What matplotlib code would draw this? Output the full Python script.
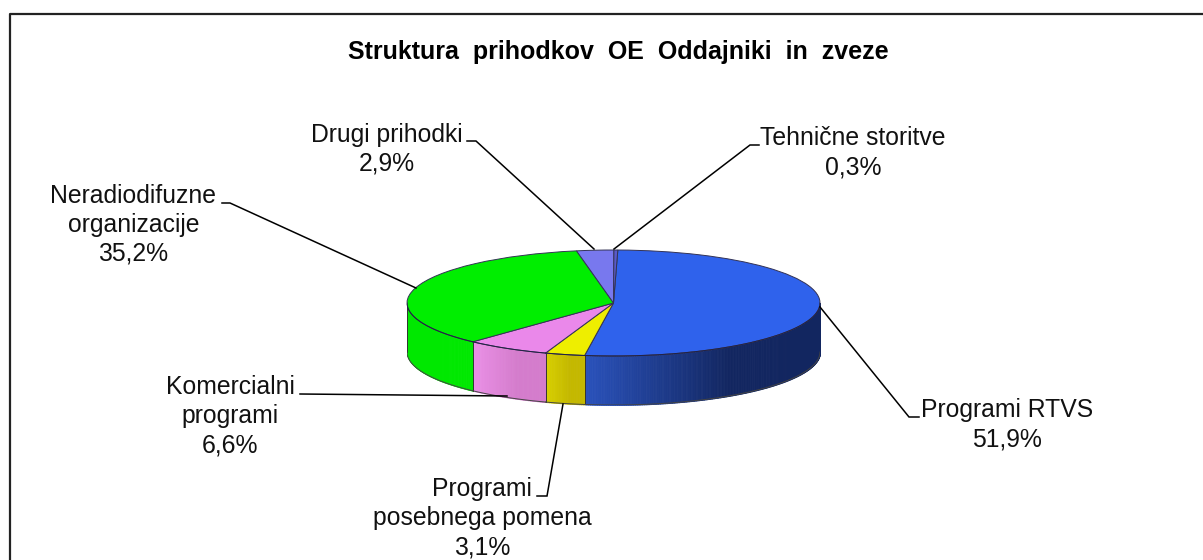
import numpy as np
import matplotlib
matplotlib.use('Agg')
import matplotlib.pyplot as plt

plt.rcParams['font.family'] = ['Liberation Sans', 'DejaVu Sans']

W, H = 1203, 560

# data, clockwise from the top
names = ['Programi RTVS', 'Programi\nposebnega pomena', 'Komercialni\nprogrami',
         'Neradiodifuzne\norganizacije', 'Drugi prihodki', 'Tehnične storitve']
values = [51.9, 3.1, 6.6, 35.2, 2.9, 0.3]
pct_labels = ['51,9%', '3,1%', '6,6%', '35,2%', '2,9%', '0,3%']
top_colors = ['#2f62ec', '#eeee00', '#ea88ea', '#00ee00', '#7878ee', '#5a5ac8']
side_left = ['#2a52bc', '#d8d000', '#ea90e6', '#00e800', '#7878ee', '#5a5ac8']
side_right = ['#122660', '#c4b800', '#d47ccc', '#00e800', '#7878ee', '#5a5ac8']

title = 'Struktura  prihodkov  OE  Oddajniki  in  zveze'

# pie geometry in pixels
cx, cy, rx, ry = 613.5, 303, 206.5, 53
depth = 49
start_deg = 1.2

# label centre x / top line y, and leader line points
label_pos = [(1007, 410), (482, 489), (230, 387), (133.5, 196), (387, 135), (853, 138)]
leaders = [
    [(919, 417), (909, 417), (820, 307)],
    [(537, 496), (547, 496), (563, 404)],
    [(300, 394), (507, 396)],
    [(222, 203), (230, 203), (416, 288)],
    [(467, 141), (476, 141), (594, 249)],
    [(759, 145), (750, 145), (614, 249)],
]


def px(x0, y0, w, h):
    return [x0 / W, 1 - (y0 + h) / H, w / W, h / H]


fig = plt.figure(figsize=(W / 100, H / 100), dpi=100)

bg = fig.add_axes([0, 0, 1, 1])
bg.set_xlim(0, W)
bg.set_ylim(H, 0)
bg.axis('off')

# chart frame, only top and left show in the crop
bg.plot([9.5, 9.5, W + 5], [H + 5, 13.5, 13.5], color='#222222', lw=1.6, zorder=1)

bg.text(618.5, 52, title, ha='center', va='center', fontsize=18, fontweight='bold', color='black')

for (x, y), name, pct in zip(label_pos, names, pct_labels):
    lines = name.split('\n') + [pct]
    for i, s in enumerate(lines):
        bg.text(x, y + i * 29, s, ha='center', va='center', fontsize=17.8, color='#111111')

# pie in its own axes, unit circle squashed by the axes shape
d = depth / ry
ax = fig.add_axes(px(cx - rx, cy - ry, 2 * rx, 2 * ry + depth))
ax.patch.set_alpha(0)
wedges, _ = ax.pie(values, colors=top_colors, startangle=90 - start_deg, counterclock=False,
                   radius=1, frame=False,
                   wedgeprops=dict(edgecolor='#333355', linewidth=0.7, zorder=5))
ax.set_aspect('auto')
ax.set_xlim(-1, 1)
ax.set_ylim(-1 - d, 1)
ax.axis('off')

# side wall, front half only
edges = start_deg + np.cumsum([0] + values) * 3.6
for i in range(len(values)):
    a0, a1 = max(edges[i], 90), min(edges[i + 1], 270)
    if a1 <= a0:
        continue
    n = max(int(a1 - a0) * 2, 2)
    angs = np.linspace(a0, a1, n + 1)
    c0 = np.array(matplotlib.colors.to_rgb(side_left[i]))
    c1 = np.array(matplotlib.colors.to_rgb(side_right[i]))
    xs = np.sin(np.radians(angs))
    y_top = np.cos(np.radians(angs))
    order = np.argsort(xs)
    xs, y_top = xs[order], y_top[order]
    for j in range(n):
        # colour runs left to right, dark end reached before the rim
        t = (0.5 * (xs[j] + xs[j + 1]) - xs.min()) / (xs.max() - xs.min())
        col = c0 + (c1 - c0) * min(t / 0.62, 1)
        ax.fill_between(xs[j:j + 2], y_top[j:j + 2] - d, y_top[j:j + 2], color=col, lw=0.6, zorder=2)
    ax.plot([xs[0], xs[0]], [y_top[0], y_top[0] - d], color='#333333', lw=0.7, zorder=3)
    ax.plot(xs, y_top - d, color='#444444', lw=0.7, zorder=3)
    ax.plot(xs, y_top, color='#222244', lw=0.7, zorder=6)

# leader lines on top
fg = fig.add_axes([0, 0, 1, 1])
fg.set_xlim(0, W)
fg.set_ylim(H, 0)
fg.axis('off')
fg.patch.set_alpha(0)
for pts in leaders:
    xs, ys = zip(*pts)
    fg.plot(xs, ys, color='black', lw=1.1, solid_joinstyle='miter')

fig.savefig('out.png', dpi=100, facecolor='white')
